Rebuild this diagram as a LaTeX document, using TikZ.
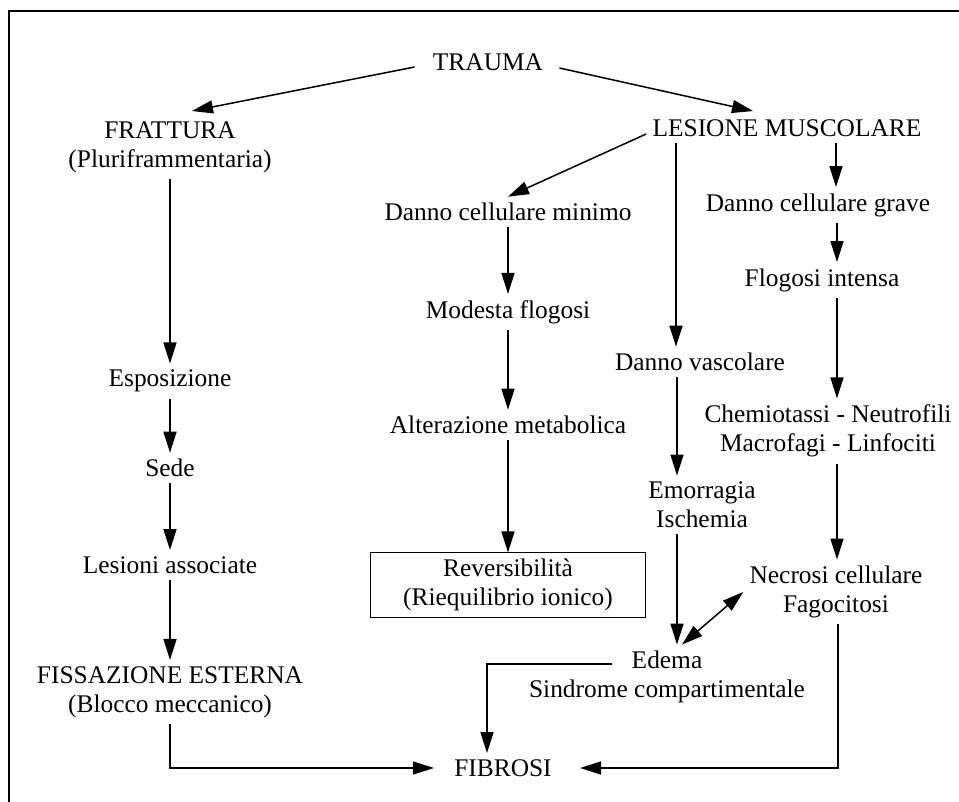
\documentclass[tikz,border=0pt]{standalone}
\usepackage{fontspec}
\setmainfont{Liberation Serif}
\usetikzlibrary{positioning, arrows.meta}

\begin{document}
\begin{tikzpicture}[
    x=0.5pt, y=-0.5pt,
    txt/.style={align=center, inner sep=3pt, font=\fontsize{12.7}{14.5}\selectfont},
    box/.style={txt, draw, line width=0.5pt, minimum width=137.5pt, minimum height=31pt},
    arr/.style={-{Triangle[length=10.5pt, width=6.5pt]}, line width=0.75pt},
    darr/.style={{Triangle[length=10.5pt, width=6.5pt]}-{Triangle[length=10.5pt, width=6.5pt]}, line width=0.75pt},
]
\useasboundingbox (0,0) rectangle (959,802);

% === Frame ===
\draw[line width=1pt] (9,802) -- (9,11) -- (959,11);

% === Row 0: Trauma ===
\node[txt] (trauma) at (488,62) {TRAUMA};
\node[txt] (fra) at (170,147) {FRATTURA\\(Pluriframmentaria)};
\node[txt] (les) at (787,128) {LESIONE MUSCOLARE};

% === Left column: fracture ===
\node[txt] (esp) at (170,381) {Esposizione};
\node[txt] (sede) at (170,468) {Sede};
\node[txt] (lasc) at (170,565) {Lesioni associate};
\node[txt] (fiss) at (170,692) {FISSAZIONE ESTERNA\\(Blocco meccanico)};

% === Middle column: minimal damage ===
\node[txt] (dmin) at (508,212) {Danno cellulare minimo};
\node[txt] (mflo) at (508,312) {Modesta flogosi};
\node[txt] (alt) at (508,425) {Alterazione metabolica};
\node[box] (rev) at (508,585) {Reversibilità\\(Riequilibrio ionico)};

% === Vascular branch ===
\node[txt] (dvas) at (700,362) {Danno vascolare};
\node[txt] (emo) at (702,505) {Emorragia\\Ischemia};
\node[txt] (ede) at (667,677) {Edema\\Sindrome compartimentale};

% === Right column: severe damage ===
\node[txt] (dgra) at (818,205) {Danno cellulare grave};
\node[txt] (fint) at (822,280) {Flogosi intensa};
\node[txt] (chem) at (828,431) {Chemiotassi - Neutrofili\\Macrofagi - Linfociti};
\node[txt] (necr) at (836,592) {Necrosi cellulare\\Fagocitosi};

% === Output ===
\node[txt] (fib) at (503,768) {FIBROSI};

% Arrows from trauma
\draw[arr] ([xshift=-6pt,yshift=-2.5pt]trauma.west) -- ([xshift=11pt,yshift=2pt]fra.north);
\draw[arr] ([xshift=5pt,yshift=-3pt]trauma.east) -- ([xshift=-17pt,yshift=1pt]les.north);

% Arrows from lesione muscolare
\draw[arr] ([yshift=-3pt]les.west) -- (dmin.north);
\draw[arr] ([xshift=-55.5pt]les.south) -- ([xshift=-55.5pt]les.south |- dvas.north);
\draw[arr] ([xshift=24.5pt]les.south) -- ([xshift=24.5pt]les.south |- dgra.north);

% Left chain
\draw[arr] (fra) -- (esp);
\draw[arr] (esp) -- (sede);
\draw[arr] (sede) -- (lasc);
\draw[arr] (lasc) -- (fiss);

% Middle chain
\draw[arr] (dmin) -- (mflo);
\draw[arr] (mflo) -- (alt);
\draw[arr] (alt) -- (rev);

% Vascular chain
\draw[arr] ([xshift=-11.5pt]dvas.south) -- ([xshift=-11.5pt]dvas.south |- emo.north);
\draw[arr] ([xshift=-12.5pt]emo.south) -- ([xshift=-12.5pt]emo.south |- ede.north);
\draw[darr] ([xshift=7.5pt]ede.north) -- (necr.west);

% Right chain
\draw[arr] ([xshift=9.5pt]dgra.south) -- ([xshift=9.5pt]dgra.south |- fint.north);
\draw[arr] ([xshift=7.5pt]fint.south) -- ([xshift=7.5pt]fint.south |- chem.north);
\draw[arr] ([xshift=4.5pt]chem.south) -- ([xshift=4.5pt]chem.south |- necr.north);

% Into fibrosi
\draw[arr] (fiss.south) |- ([xshift=-7pt]fib.west);
\draw[arr] ([xshift=-27.5pt,yshift=6.5pt]ede.center) -| ([xshift=-8pt]fib.north);
\draw[arr] ([xshift=1pt]necr.south) |- ([xshift=11pt]fib.east);

\end{tikzpicture}
\end{document}
